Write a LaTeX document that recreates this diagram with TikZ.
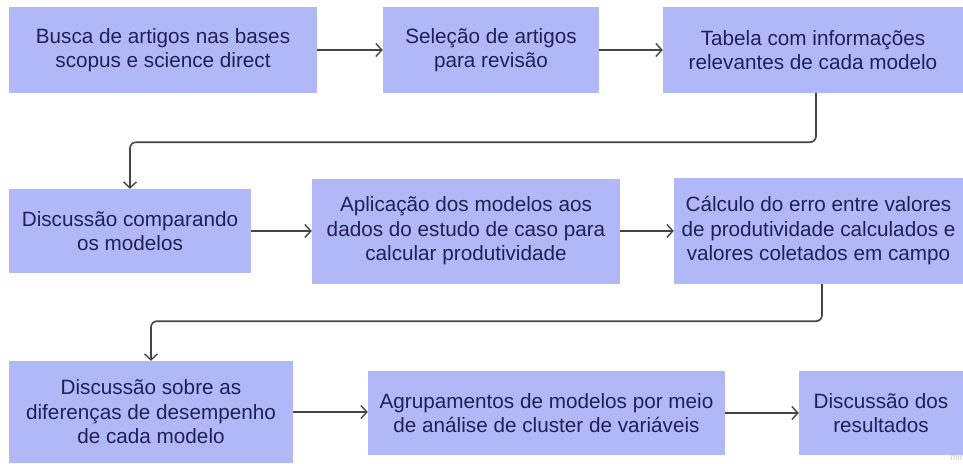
\documentclass[tikz,border=0pt]{standalone}
\usepackage{fontspec}
\setmainfont{Liberation Sans}
\usetikzlibrary{arrows.meta}
\definecolor{boxfill}{HTML}{B1B8F8}
\definecolor{boxtext}{HTML}{1F2055}
\definecolor{linec}{HTML}{454545}
\tikzset{
  box/.style={rectangle, fill=boxfill, draw=none, text=boxtext, align=center, inner sep=0pt,
    font=\fontsize{20.7}{24.5}\selectfont},
  conn/.style={draw=linec, line width=1.6pt, -{Straight Barb[length=6pt,width=13pt,line width=1.4pt]}},
  elbow/.style={conn, rounded corners=6pt}
}
\begin{document}
\begin{tikzpicture}[x=1pt,y=-1pt]
\useasboundingbox (0,0) rectangle (963,463);
\fill[white] (0,0) rectangle (963,463);
% row 1
\node[box, minimum width=308, minimum height=86] (A) at (163,50) {Busca de artigos nas bases\\scopus e science direct};
\node[box, minimum width=216, minimum height=86] (B) at (491,50) {Seleção de artigos\\para revisão};
\node[box, minimum width=300, minimum height=86] (C) at (813,50) {Tabela com informações\\relevantes de cada modelo};
% row 2
\node[box, minimum width=242, minimum height=84] (D) at (130,231) {Discussão comparando\\os modelos};
\node[box, minimum width=308, minimum height=105] (E) at (466,231) {Aplicação dos modelos aos\\dados do estudo de caso para\\calcular produtividade};
\node[box, minimum width=289, minimum height=106] (F) at (818.5,231) {Cálculo do erro entre valores\\de produtividade calculados e\\valores coletados em campo};
% row 3
\node[box, minimum width=284, minimum height=102] (G) at (151,412) {Discussão sobre as\\diferenças de desempenho\\de cada modelo};
\node[box, minimum width=357, minimum height=84] (H) at (546.5,413) {Agrupamentos de modelos por meio\\de análise de cluster de variáveis};
\node[box, minimum width=164, minimum height=84] (I) at (881,413) {Discussão dos\\resultados};
% watermark
\node[anchor=east, inner sep=0pt, text=gray!45, font=\fontsize{9}{9}\selectfont] (W) at (963,457) {mir};
% connectors
\draw[conn] (A.east) -- (B.west);
\draw[conn] (B.east) -- (C.west);
\draw[elbow] ([xshift=3pt]C.south) -- ++(0,49) -| (D.north);
\draw[conn] (D.east) -- (E.west |- D.east);
\draw[conn] (E.east) -- (F.west |- E.east);
\draw[elbow] ([xshift=3.5pt]F.south) -- ++(0,37) -| (G.north);
\draw[conn] (G.east) -- (H.west |- G.east);
\draw[conn] (H.east) -- (I.west);
\end{tikzpicture}
\end{document}
